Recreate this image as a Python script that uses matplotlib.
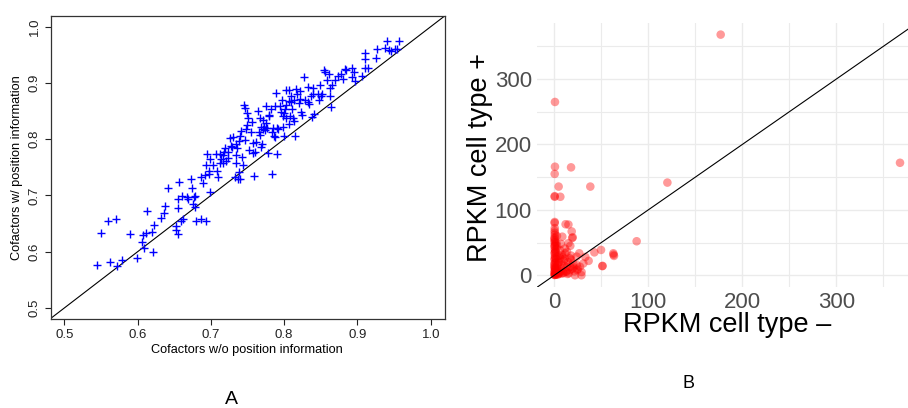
import matplotlib
matplotlib.use("Agg")
import matplotlib.pyplot as plt
import numpy as np

plt.rcParams['font.family'] = ['Liberation Sans', 'DejaVu Sans']

# ---------------- Panel A data ----------------
a_x = [0.545, 0.550, 0.560, 0.570, 0.563, 0.572, 0.579, 0.590, 0.599, 0.606,
       0.607, 0.609, 0.611, 0.613, 0.620, 0.621, 0.623, 0.632, 0.636, 0.638,
       0.642, 0.652, 0.653, 0.655, 0.655, 0.655, 0.657, 0.659, 0.662, 0.661,
       0.667, 0.669, 0.673, 0.674, 0.677, 0.679, 0.676, 0.679, 0.680, 0.687,
       0.687, 0.689, 0.694, 0.692, 0.694, 0.695, 0.697, 0.699, 0.699, 0.697,
       0.703, 0.707, 0.708, 0.710, 0.712, 0.714, 0.716, 0.718, 0.719, 0.723,
       0.717, 0.721, 0.726, 0.729, 0.730, 0.733, 0.734, 0.735, 0.735, 0.736,
       0.737, 0.739, 0.740, 0.739, 0.740, 0.741, 0.743, 0.744, 0.745, 0.747,
       0.748, 0.749, 0.749, 0.751, 0.752, 0.755, 0.756, 0.757, 0.758, 0.759,
       0.760, 0.765, 0.766, 0.767, 0.767, 0.768, 0.769, 0.770, 0.771, 0.771,
       0.773, 0.774, 0.775, 0.776, 0.778, 0.779, 0.783, 0.784, 0.786, 0.787,
       0.787, 0.789, 0.790, 0.790, 0.792, 0.794, 0.796, 0.797, 0.798, 0.799,
       0.800, 0.800, 0.801, 0.802, 0.803, 0.806, 0.806, 0.807, 0.809, 0.810,
       0.811, 0.812, 0.813, 0.815, 0.816, 0.818, 0.820, 0.821, 0.823, 0.824,
       0.827, 0.829, 0.832, 0.832, 0.834, 0.836, 0.838, 0.839, 0.846, 0.848,
       0.849, 0.850, 0.852, 0.854, 0.856, 0.859, 0.861, 0.862, 0.863, 0.864,
       0.866, 0.869, 0.874, 0.877, 0.881, 0.883, 0.885, 0.892, 0.893, 0.896,
       0.897, 0.906, 0.910, 0.911, 0.911, 0.915, 0.925, 0.927, 0.938, 0.941,
       0.943, 0.946, 0.951, 0.954, 0.957,
       0.728, 0.746, 0.761, 0.780, 0.782, 0.808, 0.813, 0.821, 0.840, 0.841,
       0.803, 0.785, 0.775, 0.723, 0.713]
a_y = [0.576, 0.633, 0.655, 0.658, 0.582, 0.575, 0.585, 0.631, 0.589, 0.617,
       0.629, 0.606, 0.633, 0.672, 0.636, 0.599, 0.647, 0.660, 0.668, 0.682,
       0.714, 0.645, 0.639, 0.631, 0.677, 0.694, 0.724, 0.655, 0.658, 0.699,
       0.698, 0.693, 0.729, 0.714, 0.697, 0.699, 0.685, 0.679, 0.655, 0.659,
       0.733, 0.722, 0.655, 0.736, 0.754, 0.774, 0.738, 0.764, 0.706, 0.744,
       0.754, 0.774, 0.743, 0.732, 0.757, 0.764, 0.772, 0.777, 0.784, 0.778,
       0.758, 0.761, 0.803, 0.787, 0.804, 0.732, 0.772, 0.757, 0.791, 0.784,
       0.730, 0.742, 0.806, 0.796, 0.729, 0.815, 0.769, 0.754, 0.861, 0.798,
       0.819, 0.825, 0.846, 0.837, 0.781, 0.812, 0.831, 0.775, 0.794, 0.735,
       0.777, 0.851, 0.813, 0.838, 0.808, 0.787, 0.822, 0.791, 0.834, 0.819,
       0.822, 0.817, 0.859, 0.820, 0.775, 0.843, 0.739, 0.813, 0.806, 0.859,
       0.804, 0.882, 0.773, 0.820, 0.819, 0.859, 0.849, 0.870, 0.821, 0.841,
       0.806, 0.847, 0.853, 0.838, 0.887, 0.888, 0.868, 0.827, 0.877, 0.866,
       0.853, 0.837, 0.832, 0.806, 0.889, 0.880, 0.865, 0.885, 0.848, 0.843,
       0.911, 0.870, 0.893, 0.867, 0.863, 0.877, 0.840, 0.891, 0.880, 0.870,
       0.897, 0.876, 0.880, 0.923, 0.920, 0.905, 0.916, 0.891, 0.876, 0.857,
       0.896, 0.905, 0.912, 0.916, 0.907, 0.925, 0.923, 0.911, 0.927, 0.920,
       0.903, 0.912, 0.954, 0.942, 0.926, 0.926, 0.944, 0.960, 0.963, 0.974,
       0.958, 0.956, 0.961, 0.961, 0.974,
       0.788, 0.855, 0.795, 0.842, 0.853, 0.842, 0.870, 0.872, 0.880, 0.845,
       0.860, 0.820, 0.829, 0.766, 0.774]
a_ticks = [0.5, 0.6, 0.7, 0.8, 0.9, 1.0]
a_ticklabels = ["0.5", "0.6", "0.7", "0.8", "0.9", "1.0"]

# ---------------- Panel B data ----------------
b_x = [177, 367.8, 120.3, 87.6, 0.7, 0.7, 0.4, 17.8, 4.6, 38.3,
       0.4, 0.4, 6.4, 0.4, 0.4, 12, 15, 18.5, 19.6, 8.5, 15, 0.4,
       0.4, 0.4, 62.8, 63.5, 63.0, 49.7, 42.6, 36.5, 51.4, 51.0, 28.8, 22,
       26.6, 23.8, 16.7, 11.8, 6, 3.2, 0.4, 0.4, 0.4, 3.2,
       7.8, 13, 16.7, 20, 9.6, 4.3, 13, 0.4, 2.5, 11.3,
       16.7, 23.8, 30.9, 27.3, 0.5, 0.3, 0.6, 0.2, 1.0, 1.5,
       0.8, 2.0, 5.0, 8.0, 10.0, 1.2, 0.5, 0.9, 14.0, 6.5,
       9.0, 3.5, 0.3, 0.6, 18.0, 25.0, 2.2, 4.8, 0.4, 1.8,
       0.2, 0.5, 0.3, 0.6, 0.4, 0.2, 0.7, 0.3, 0.5, 0.4,
       0.3, 0.6, 0.2, 0.5, 1.1, 2.6, 3.8, 5.5, 7.2, 9.4,
       12.5, 15.5, 19.0, 21.5, 24.5, 29.0, 33.0, 2.0, 4.0, 6.0,
       8.5, 11.0, 1.5, 3.0, 10.5, 14.5, 17.5, 20.5, 5.5, 1.0,
       19.0, 13.5, 17.0, 7.0, 2.8]
b_y = [368, 172, 141.7, 52, 265, 166, 155, 165, 135.6, 135.6,
       120, 121, 120, 81.5, 80, 78, 77.5, 67, 58, 59, 49, 68,
       54, 44, 33.6, 29.6, 31.5, 38.7, 35, 22, 14.3, 14.0, 0, 0,
       33.6, 28.5, 26, 33.6, 38.7, 28.5, 23.4, 13, 5.6, 8,
       15.8, 13, 8, 18, 3, 2, 5.6, 33.6, 41, 41,
       13, 15.8, 18, 13, 62, 50, 30, 18, 9, 3,
       47, 25, 20, 10, 22, 1, 72, 38, 2, 6,
       28, 15, 58, 10, 30, 10, 50, 4, 0.5, 20,
       0.5, 2, 4, 7, 11, 15, 19, 26, 35, 40,
       45, 52, 56, 65, 0.8, 1.5, 1.0, 3.5, 2.5, 4,
       6, 3, 10, 6, 8, 5, 28, 12, 18, 26,
       31, 25, 36, 45, 15, 20, 24, 12, 30, 27,
       57, 36, 45, 48, 60]
b_ticks = [0, 100, 200, 300]
b_minor = [50, 150, 250, 350]

fig = plt.figure(figsize=(9.08, 4.08), dpi=100)

# ---------------- Panel A ----------------
axA = fig.add_axes([50.7/908, 1-319/408, (445-50.7)/908, (319-16)/408])
axA.scatter(a_x, a_y, marker='+', s=30, linewidths=1.0, color='#0000ff', zorder=3)
axA.plot([0.48, 1.02], [0.48, 1.02], color='black', lw=0.8, zorder=2)
axA.set_xlim(0.4815, 1.0195)
axA.set_ylim(0.4805, 1.019)
axA.set_xticks(a_ticks)
axA.set_xticklabels(a_ticklabels)
axA.set_yticks(a_ticks)
axA.set_yticklabels(a_ticklabels, rotation=90, va='center')
axA.tick_params(axis='both', direction='out', length=4, width=0.8, labelsize=9.5,
                colors='#222222', pad=3)
for sp in axA.spines.values():
    sp.set_linewidth(0.9)
    sp.set_color('#333333')
axA.set_xlabel("Cofactors w/o position information", fontsize=9.2)
axA.xaxis.set_label_coords(0.498, -0.102)
axA.xaxis.label.set_va('center')
axA.set_ylabel("Cofactors w/ position information", fontsize=9.2)
axA.yaxis.set_label_coords(-0.086, 0.498)
axA.yaxis.label.set_va('center')

# ---------------- Panel B ----------------
axB = fig.add_axes([537.3/908, 1-286.7/408, (908-537.3)/908, (286.7-23.3)/408])
for sp in axB.spines.values():
    sp.set_visible(False)
axB.set_xlim(-18.1, 376.3)
axB.set_ylim(-17.5, 385.3)
axB.set_xticks(b_ticks)
axB.set_yticks(b_ticks)
axB.set_xticks(b_minor, minor=True)
axB.set_yticks(b_minor, minor=True)
axB.grid(which='major', color='#EBEBEB', lw=1.0, zorder=0)
axB.grid(which='minor', color='#EBEBEB', lw=0.8, zorder=0)
axB.tick_params(which='both', length=0, labelsize=16, colors='#4D4D4D', pad=4)
axB.tick_params(which='minor', labelbottom=False, labelleft=False)
axB.scatter(b_x, b_y, s=38, color='#ff0000', alpha=0.4, edgecolors='none', zorder=3)
axB.plot([-20, 400], [-20, 400], color='black', lw=0.8, zorder=4)
axB.set_axisbelow(True)
axB.set_xlabel("RPKM cell type \u2013", fontsize=19.5)
axB.xaxis.set_label_coords(0.513, -0.145)
axB.xaxis.label.set_va('center')
axB.set_ylabel("RPKM cell type +", fontsize=19.5)
axB.yaxis.set_label_coords(-0.1546, 0.492)
axB.yaxis.label.set_va('center')

fig.text(231/908, 1-400/408, "A", fontsize=14, ha='center', va='center')
fig.text(689/908, 1-383/408, "B", fontsize=13, ha='center', va='center')

fig.savefig("out.png", dpi=100)
